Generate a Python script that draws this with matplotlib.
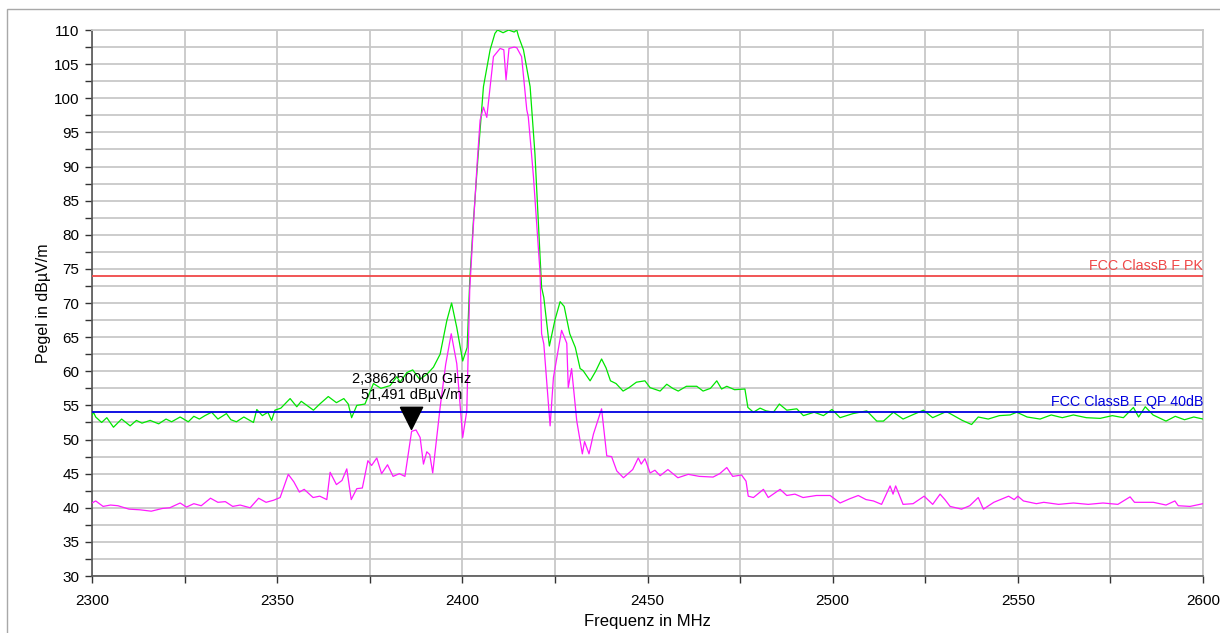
import matplotlib
matplotlib.use("Agg")
import matplotlib.pyplot as plt
from matplotlib.patches import Rectangle
from matplotlib.ticker import MultipleLocator

plt.rcParams["font.family"] = ["Liberation Sans", "DejaVu Sans"]

# Peak trace (green)
pk_freq = [2300, 2300.4, 2301, 2302.6, 2304, 2305.8, 2308, 2310.3, 2312, 2313.5,
           2315.7, 2318, 2320, 2321.5, 2323.8, 2326, 2327.5, 2329, 2330.5, 2332.3,
           2334, 2336.3, 2337.5, 2339, 2341, 2343.6, 2344.5, 2346, 2347.5, 2348.5,
           2349.4, 2351, 2353.5, 2355.3, 2356.5, 2358, 2359.8, 2361.5, 2363.8, 2366,
           2368, 2369.2, 2370.1, 2371.5, 2373.7, 2376, 2378, 2380.5, 2382.3, 2383.2,
           2385, 2386.6, 2388.5, 2390.5, 2392.2, 2394, 2395.8, 2397.1, 2398.5, 2400.1,
           2401.3, 2402, 2403, 2404.3, 2405.7, 2407.5, 2408.8, 2409.5, 2411, 2412.5,
           2414, 2414.7, 2415.2, 2416.5, 2418.3, 2419.6, 2420.5, 2421.4, 2422, 2423.5,
           2425, 2426.4, 2427.5, 2429, 2430.5, 2431.8, 2432.6, 2434.5, 2436, 2437.6,
           2438.8, 2440, 2441.5, 2443.4, 2445, 2447, 2449.3, 2450.7, 2453.4, 2455.2,
           2456.8, 2458.3, 2460.5, 2463.3, 2465, 2467, 2468.7, 2470, 2471.4, 2473.5,
           2476.3, 2477.1, 2478.6, 2480.4, 2482, 2484, 2485.6, 2487.6, 2490.3, 2492.1,
           2495, 2497.5, 2499.8, 2502, 2505.5, 2509.2, 2511.9, 2513.7, 2516.4, 2519,
           2521.5, 2524.5, 2527, 2530.7, 2533, 2535, 2537.5, 2539.3, 2542, 2545,
           2547.9, 2549.7, 2552.5, 2556, 2559, 2562, 2565, 2568.5, 2572.2, 2575.5,
           2578.5, 2581.2, 2582.6, 2584.4, 2586.5, 2590, 2592.5, 2595, 2597.5, 2600]
pk_level = [53.5, 54, 53.3, 52.5, 53.2, 51.8, 53, 52, 52.8, 52.4,
            52.8, 52.3, 53, 52.6, 53.3, 52.6, 53.4, 53, 53.5, 54,
            53, 53.8, 52.9, 52.6, 53.3, 52.5, 54.4, 53.5, 54, 52.8,
            54.3, 54.6, 56, 54.8, 55.6, 55, 54.3, 55.2, 56.3, 55.4,
            56, 55.2, 53.2, 55, 55.2, 58.2, 57.5, 57.9, 59.2, 58.4,
            59.8, 60.2, 58.8, 59.6, 60.6, 62.5, 67.4, 70, 66.4, 61.5,
            63.5, 73.3, 82.1, 91.9, 101.7, 107.1, 109.5, 110, 109.6, 110,
            109.7, 110, 109, 107.1, 101.7, 91.9, 82.1, 72.3, 70.8, 63.7,
            67.5, 70.2, 69.5, 65.5, 63.5, 60.4, 60.1, 58.6, 60, 61.8,
            60.5, 58.6, 58.2, 57.1, 57.6, 58.4, 58.6, 57.6, 57.1, 58.1,
            57.5, 57.1, 57.8, 57.8, 57.1, 57.5, 58.6, 57.4, 57.8, 57.3,
            57.4, 54.7, 54, 54.6, 54.2, 54, 55.2, 54.3, 54.5, 53.5,
            54, 53.5, 54.4, 53.2, 53.8, 54.2, 52.7, 52.7, 54, 53,
            53.6, 54.3, 53.2, 54.1, 53.4, 52.8, 52.2, 53.3, 53, 53.5,
            53.6, 54, 53.3, 53, 53.6, 53.2, 53.6, 53.2, 53.1, 53.5,
            53.2, 54.7, 53.3, 54.8, 53.6, 52.7, 53.4, 52.9, 53.3, 53]

# Average trace (magenta)
av_freq = [2300, 2301, 2303, 2305, 2307, 2310, 2313, 2316, 2319, 2321,
           2323.8, 2325.5, 2327.5, 2329.5, 2332, 2334, 2336, 2338, 2340, 2342.7,
           2345, 2347, 2349, 2350.8, 2353, 2354.5, 2356, 2357.3, 2359.7, 2361.5,
           2363.4, 2364.3, 2366, 2367.5, 2368.8, 2370, 2371.5, 2373, 2374.5, 2375.5,
           2376.9, 2378.2, 2379.8, 2381.3, 2383, 2384.5, 2386.3, 2387.5, 2388.6, 2389.5,
           2390.4, 2391.2, 2392, 2394, 2395.5, 2397, 2398.5, 2400.1, 2401.2, 2402,
           2403, 2404, 2404.8, 2405.7, 2406.6, 2408.4, 2410.2, 2411.2, 2411.8, 2412.6,
           2414, 2414.7, 2416, 2417.4, 2417.8, 2418.5, 2419.2, 2421, 2421.4, 2422,
           2423.7, 2424.6, 2426.8, 2428.2, 2428.6, 2429.5, 2430.9, 2432.4, 2433, 2434.2,
           2435.4, 2437.6, 2439, 2440.3, 2441.7, 2443.5, 2446, 2447.5, 2448.3, 2449.3,
           2450.7, 2452, 2453.4, 2455.5, 2458.2, 2461, 2464, 2467.7, 2469.5, 2471.4,
           2473, 2475.4, 2476.6, 2477.2, 2478.6, 2481.3, 2482.6, 2485.8, 2487.6, 2489.8,
           2492, 2495.6, 2499.3, 2502, 2504.5, 2506.9, 2509, 2511, 2513.2, 2515.5,
           2516.3, 2517, 2519, 2521.7, 2524.7, 2527, 2529, 2530.3, 2531.7, 2534.8,
           2537, 2539.3, 2540.7, 2543.5, 2547.5, 2549, 2550, 2551.5, 2555, 2557,
           2561, 2565, 2569, 2573, 2577, 2580.3, 2581.5, 2586.6, 2590, 2592.4,
           2593.3, 2596.5, 2600]
av_level = [40.7, 41, 40.2, 40.4, 40.3, 39.8, 39.7, 39.5, 39.9, 40,
            40.7, 40.1, 40.6, 40.3, 41.4, 40.8, 40.9, 40.2, 40.4, 40,
            41.4, 40.8, 41.1, 41.5, 44.9, 43.8, 42.3, 42.7, 41.5, 41.7,
            41.2, 45.2, 43.4, 44, 45.7, 41.2, 42.8, 42.9, 46.9, 46.2,
            47.3, 45, 46.3, 44.6, 45, 44.6, 51.2, 51.4, 50.3, 46.4,
            48.2, 47.8, 45.1, 54.7, 61, 65.5, 61.1, 50.3, 54.2, 72,
            81.5, 90.5, 96.8, 98.7, 97.2, 106.1, 107.3, 107.1, 102.7, 107.3,
            107.5, 107.4, 106.1, 98.3, 97.3, 93, 88.5, 74.3, 65.5, 64,
            52, 59.1, 66, 64.1, 57.6, 60.4, 52.7, 47.9, 49.7, 47.9,
            50.8, 54.5, 47.6, 47.5, 45.4, 44.4, 45.6, 47.3, 46.4, 47.2,
            45.1, 45.5, 44.7, 45.6, 44.4, 44.9, 44.6, 44.5, 45, 45.9,
            44.6, 44.8, 43.9, 41.7, 41.5, 42.7, 41.5, 42.7, 41.8, 42,
            41.5, 41.8, 41.8, 40.7, 41.3, 41.8, 41.2, 41, 40.5, 43.2,
            42, 43.2, 40.5, 40.6, 41.7, 40.5, 42, 41.2, 40.2, 39.8,
            40.3, 41.5, 39.8, 40.8, 41.7, 41.2, 41.7, 41, 40.6, 40.8,
            40.5, 40.7, 40.5, 40.7, 40.5, 41.6, 40.8, 40.8, 40.4, 41,
            40.3, 40.2, 40.6]

# Limit lines
pk_limit = 74
qp_limit = 54

# Marker
mk_freq = 2386.25
mk_level = 51.491
mk_text = "2,386250000 GHz\n51,491 dBµV/m"

fig = plt.figure(figsize=(12.2, 6.33), dpi=100)
ax = fig.add_axes([0.0754, 0.0900, 0.9107, 0.8626])

ax.plot(pk_freq, pk_level, color="#00e600", lw=0.9, zorder=3)
ax.plot(av_freq, av_level, color="#ff1aff", lw=0.9, zorder=3)

ax.axhline(pk_limit, color="#f04848", lw=1.3, zorder=4)
ax.axhline(qp_limit, color="#0000e0", lw=1.3, zorder=4)
ax.text(2600, pk_limit + 0.4, "FCC ClassB F PK", color="#f04848",
        ha="right", va="bottom", fontsize=10.3, zorder=5)
ax.text(2600, qp_limit + 0.4, "FCC ClassB F QP 40dB", color="#0000e0",
        ha="right", va="bottom", fontsize=10.3, zorder=5)

# marker triangle with its tip on the measured point
tri = [(-1, 2), (1, 2), (0, 0), (-1, 2)]
ax.plot([mk_freq], [mk_level], marker=tri, markersize=32, color="black",
        linestyle="none", zorder=6)
ax.text(mk_freq, 57.7, mk_text, ha="center", va="center", fontsize=10.5,
        linespacing=1.25, zorder=6)

ax.set_xlim(2300, 2600)
ax.set_ylim(30, 110)
ax.xaxis.set_major_locator(MultipleLocator(50))
ax.xaxis.set_minor_locator(MultipleLocator(25))
ax.yaxis.set_major_locator(MultipleLocator(5))
ax.yaxis.set_minor_locator(MultipleLocator(2.5))

ax.grid(True, which="both", color="#c8c8c8", lw=1.3, zorder=0)
ax.set_axisbelow(True)
ax.tick_params(which="both", direction="out", length=5, width=1,
               color="#333333", labelsize=11)
ax.tick_params(axis="x", pad=8)
ax.tick_params(axis="y", pad=4)

for side in ["left", "bottom"]:
    ax.spines[side].set_color("#555555")
    ax.spines[side].set_linewidth(1.2)
for side in ["top", "right"]:
    ax.spines[side].set_color("#c8c8c8")
    ax.spines[side].set_linewidth(1.3)

ax.set_xlabel("Frequenz in MHz", fontsize=12, labelpad=4)
ax.set_ylabel("Pegel in dBµV/m", fontsize=11.5, labelpad=2)

# outer frame of the figure
fig.add_artist(Rectangle((7 / 1220, -0.1), 1.2, 1.1 - 9 / 633,
                         transform=fig.transFigure, fill=False,
                         ec="#a8a8a8", lw=1))

fig.savefig("out.png", dpi=100)
